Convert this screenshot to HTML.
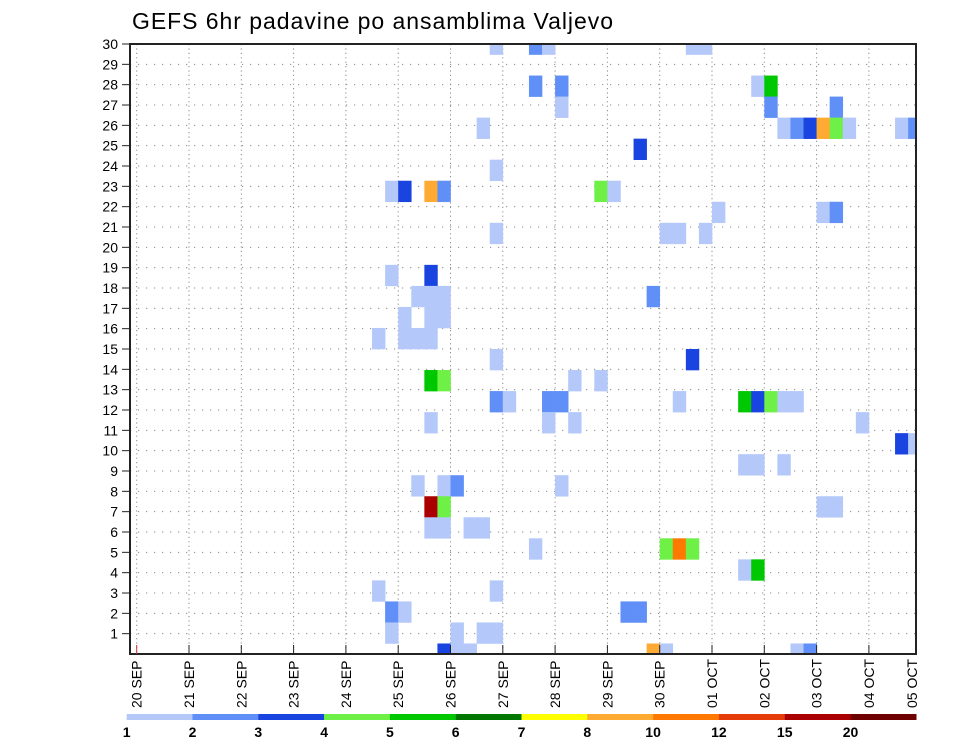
<!DOCTYPE html>
<html><head><meta charset="utf-8"><style>
html,body{margin:0;padding:0;background:#fff;}
svg{display:block;font-family:"Liberation Sans",sans-serif;}
</style></head><body>
<svg id="chart" width="960" height="742" viewBox="0 0 960 742" xmlns="http://www.w3.org/2000/svg">
<text x="132" y="29" font-size="23" textLength="481" lengthAdjust="spacing" fill="#000">GEFS 6hr padavine po ansamblima Valjevo</text>
<g id="grid"></g>
<g id="cells"></g>
<g id="axes"></g>
<g id="legend"></g>
</svg>
<script>
// ---- data ----
const dayLabels = ["20 SEP","21 SEP","22 SEP","23 SEP","24 SEP","25 SEP","26 SEP","27 SEP","28 SEP","29 SEP","30 SEP","01 OCT","02 OCT","03 OCT","04 OCT","05 OCT"];
const memberTicks = [1,2,3,4,5,6,7,8,9,10,11,12,13,14,15,16,17,18,19,20,21,22,23,24,25,26,27,28,29,30];
const levels = [1,2,3,4,5,6,7,8,10,12,15,20];
const levelColors = ["#b4c8fa","#5f8ff7","#1a44e0","#6ef046","#00c800","#007800","#ffff00","#ffaa32","#ff7800","#e63c0a","#aa0000","#6e0000"];
// cells: 6-hour step index, ensemble member row, precipitation (mm)
const cellStep =   [27,30,31,42,43, 30,32,47,48, 32,48,53, 26,49,50,51,52,53,54,58,59, 38, 27, 19,20,22,23,35,36, 44,52,53, 27,40,41,43, 19,22, 21,22,23,39, 20,22,23, 18,20,21,22, 27,42, 22,23,33,35, 27,28,31,32,41,46,47,48,49,50, 22,31,33,55, 58,59, 46,47,49, 21,23,24,32, 22,23,52,53, 22,23,25,26, 30,40,41,42, 46,47, 18,27, 19,20,37,38, 19,24,26,27, 23,24,25,39,40,50,51];
const cellMember = [29,29,29,29,29, 27,27,27,27, 26,26,26, 25,25,25,25,25,25,25,25,25, 24, 23, 22,22,22,22,22,22, 21,21,21, 20,20,20,20, 18,18, 17,17,17,17, 16,16,16, 15,15,15,15, 14,14, 13,13,13,13, 12,12,12,12,12,12,12,12,12,12, 11,11,11,11, 10,10, 9,9,9, 8,8,8,8, 7,7,7,7, 6,6,6,6, 5,5,5,5, 4,4, 3,3, 2,2,2,2, 1,1,1,1, 0,0,0,0,0,0,0];
const cellValue =  [1.5,2.5,1.5,1.5,1.5, 2.5,2.5,1.5,5.5, 1.5,2.5,2.5, 1.5,1.5,2.5,3.5,9,4.5,1.5,1.5,2.5, 3.5, 1.5, 1.5,3.5,9,2.5,4.5,1.5, 1.5,1.5,2.5, 1.5,1.5,1.5,1.5, 1.5,3.5, 1.5,1.5,1.5,2.5, 1.5,1.5,1.5, 1.5,1.5,1.5,1.5, 1.5,3.5, 5.5,4.5,1.5,1.5, 2.5,1.5,2.5,2.5,1.5,5.5,3.5,4.5,1.5,1.5, 1.5,1.5,1.5,1.5, 3.5,1.5, 1.5,1.5,1.5, 1.5,1.5,2.5,1.5, 17,4.5,1.5,1.5, 1.5,1.5,1.5,1.5, 1.5,4.5,11,4.5, 1.5,5.5, 1.5,1.5, 2.5,1.5,2.5,2.5, 1.5,1.5,1.5,1.5, 3.5,1.5,1.5,9,1.5,1.5,2.5];

// ---- geometry / scales ----
const L=130, R=916, T=44, B=654;
const x0=136.7, dayW=52.3, stepW=dayW/4;
const unitY=(B-T)/30;
const nMembers=30;
function xStep(t){return x0+t*stepW;}
function xDay(d){return x0+d*dayW;}
function yVal(v){return B-v*unitY;}
function yMember(k){return yVal(k*30/(nMembers-1));}
const cellH=unitY*30/(nMembers-1);
function colorFor(v){let c=null;for(let i=0;i<levels.length;i++){if(v>=levels[i])c=levelColors[i];}return c;}
const NS="http://www.w3.org/2000/svg";
function mk(tag,attrs,parent){const e=document.createElementNS(NS,tag);for(const k in attrs)e.setAttribute(k,attrs[k]);parent.appendChild(e);return e;}

const defs=mk('defs',{},document.getElementById('chart'));
const cp=mk('clipPath',{id:'plotclip'},defs);
mk('rect',{x:L,y:T,width:R-L,height:B-T},cp);

// grid
const grid=document.getElementById('grid');
memberTicks.forEach(v=>{
  if(v>=30)return;
  const y=yVal(v);
  const ln=mk('line',{x1:L,x2:R,y1:y,y2:y,stroke:'#8a8a8a','stroke-width':1,'stroke-dasharray':'1.2,6.8'},grid);
  
  
});
dayLabels.forEach((lab,d)=>{
  const x=xDay(d);
  if(x<=L+2||x>=R-2)return;
  const ln=mk('line',{x1:x,x2:x,y1:T,y2:B,stroke:'#8a8a8a','stroke-width':1,'stroke-dasharray':'1.2,3.2'},grid);
  
  
});

// cells
const cells=document.getElementById('cells');
cells.setAttribute('clip-path','url(#plotclip)');
for(let n=0;n<cellStep.length;n++){
  const x=xStep(cellStep[n]);
  const yc=yMember(cellMember[n]);
  const r=mk('rect',{x:x,y:yc-cellH/2,width:stepW+0.3,height:cellH+0.3,fill:colorFor(cellValue[n])},cells);
  
  
}

// axes
const axes=document.getElementById('axes');
const frame=mk('rect',{x:L,y:T,width:R-L,height:B-T,fill:'none',stroke:'#222','stroke-width':2},axes);


memberTicks.forEach(v=>{
  const y=yVal(v);
  const tk=mk('line',{x1:L-8,x2:L,y1:y,y2:y,stroke:'#222','stroke-width':1},axes);
  
  
  const t=mk('text',{x:L-12,y:y+5,'font-size':14,'text-anchor':'end',fill:'#000'},axes);
  t.textContent=v;
  
  
});
dayLabels.forEach((lab,d)=>{
  let x=xDay(d);
  if(x<R){
    const tk=mk('line',{x1:x,x2:x,y1:B-9,y2:B,stroke:d===0?'#c33':'#222','stroke-width':1},axes);
    
    
  }
  if(x>R-4)x=R-4;
  const t=mk('text',{x:0,y:0,'font-size':14,fill:'#000',transform:'translate('+(x+5)+',708) rotate(-90)'},axes);
  t.textContent=lab;
  
  
});

// legend
const legend=document.getElementById('legend');
const lx0=126.7, segW=65.8;
levelColors.forEach((c,i)=>{
  const r=mk('rect',{x:lx0+i*segW,y:714,width:segW+0.2,height:6,fill:c},legend);
  
  
});
levels.forEach((v,i)=>{
  const t=mk('text',{x:lx0+i*segW,y:737,'font-size':14,'font-weight':'bold','text-anchor':'middle',fill:'#000'},legend);
  t.textContent=v;
  
  
});
</script>
</body></html>
